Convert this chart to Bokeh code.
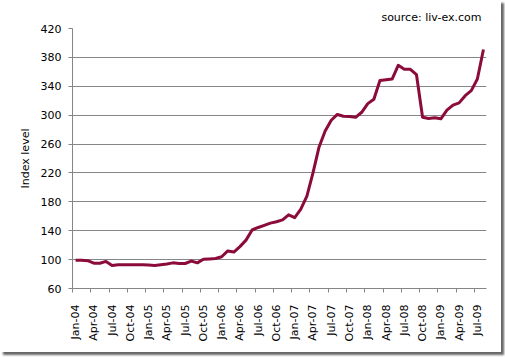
from bokeh.plotting import figure
from bokeh.models import FixedTicker, Title
from bokeh.embed import file_html
from bokeh.resources import INLINE

# Monthly index level, Jan-04 .. Aug-09 (68 months)
index_level = [
    99, 99, 98.5, 95, 95, 97.5, 92, 93, 93, 93, 93, 93,          # 2004
    92.5, 92, 93, 94, 95.5, 94.6, 94.6, 98, 95.5, 100.5, 101, 101.5,  # 2005
    104, 112, 110.5, 118, 127, 141, 144.5, 147.5, 150.5, 152.5, 155, 162,  # 2006
    158, 170, 188, 220, 256, 278, 293, 301, 298.5, 298, 297, 304,  # 2007
    316, 322, 348, 349, 350, 369, 363.5, 363.5, 356, 297, 295.5, 296.5,  # 2008
    295, 307, 314, 317, 327, 334, 350, 391,                      # 2009
]
tick_labels = [
    "Jan-04", "Apr-04", "Jul-04", "Oct-04",
    "Jan-05", "Apr-05", "Jul-05", "Oct-05",
    "Jan-06", "Apr-06", "Jul-06", "Oct-06",
    "Jan-07", "Apr-07", "Jul-07", "Oct-07",
    "Jan-08", "Apr-08", "Jul-08", "Oct-08",
    "Jan-09", "Apr-09", "Jul-09",
]
y_ticks = [60, 100, 140, 180, 220, 260, 300, 340, 380, 420]
n_cats = 68

xs = [i + 0.5 for i in range(len(index_level))]

FONT = "DejaVu Sans"
GRAY = "#868686"

p = figure(
    width=501, height=353,
    frame_width=414, frame_height=260,
    x_range=(0, n_cats), y_range=(60, 420),
    output_backend="svg", toolbar_location=None,
    min_border_left=72, min_border_right=15,
    min_border_top=28, min_border_bottom=64,
    styles={"box-shadow": "3px 3px 2px #666666"},
)
p.outline_line_color = None
p.background_fill_color = "white"
p.border_fill_color = "white"

p.add_layout(Title(text="source: liv-ex.com", align="right",
                   text_font=FONT, text_font_size="11px",
                   text_font_style="normal", text_color="#000000",
                   offset=5, standoff=10), "above")

p.line(xs, index_level, line_color="#8b0b3a", line_width=3, line_join="round")

# x axis: tick marks at category boundaries, labels centred on categories
label_pos = [3 * i + 0.5 for i in range(len(tick_labels))]
tick_pos = [3 * i for i in range(len(tick_labels))]
p.xaxis.ticker = FixedTicker(ticks=label_pos, minor_ticks=tick_pos)
p.xaxis.major_label_overrides = {lp: t for lp, t in zip(label_pos, tick_labels)}
p.xaxis.major_label_orientation = 3.14159265 / 2
p.xaxis.major_tick_line_color = None
p.xaxis.major_tick_out = 0
p.xaxis.major_tick_in = 0
p.xaxis.minor_tick_line_color = GRAY
p.xaxis.minor_tick_out = 4
p.xaxis.minor_tick_in = 0
p.xaxis.major_label_standoff = 12
p.xgrid.grid_line_color = None

# y axis
p.yaxis.ticker = FixedTicker(ticks=y_ticks)
p.yaxis.axis_label = "Index level"
p.yaxis.axis_label_standoff = 6
p.yaxis.major_tick_out = 4
p.yaxis.major_tick_in = 0
p.yaxis.minor_tick_line_color = None
p.yaxis.major_tick_line_color = GRAY
p.yaxis.major_label_standoff = 7
p.ygrid.grid_line_color = GRAY
p.ygrid.grid_line_width = 1

for ax in (p.xaxis, p.yaxis):
    ax.axis_line_color = GRAY
    ax.major_label_text_font = FONT
    ax.major_label_text_font_size = "11px"
    ax.major_label_text_color = "#000000"
    ax.axis_label_text_font = FONT
    ax.axis_label_text_font_size = "11px"
    ax.axis_label_text_font_style = "normal"
    ax.axis_label_text_color = "#000000"

open("out.html", "w").write(file_html(p, INLINE))
